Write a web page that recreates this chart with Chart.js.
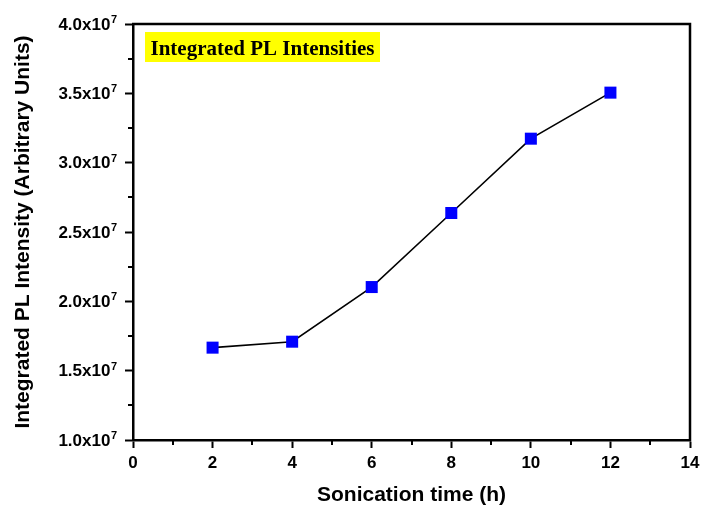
<!DOCTYPE html>
<html><head><meta charset="utf-8">
<script src="https://cdn.jsdelivr.net/npm/chart.js@4"></script>
<style>html,body{margin:0;padding:0;background:#fff}#wrap{width:708px;height:510px}</style>
</head><body><div id="wrap"><canvas id="c" width="708" height="510"></canvas></div>
<script>
const sonicationHours = [2, 4, 6, 8, 10, 12];
const plIntensity = [1.666e7, 1.709e7, 2.103e7, 2.637e7, 3.173e7, 3.505e7];
const yTickMantissa = ['1.0x10', '1.5x10', '2.0x10', '2.5x10', '3.0x10', '3.5x10', '4.0x10'];
const yTickExponent = '7';
const xMinorTicks = [1, 3, 5, 7, 9, 11, 13];
const yMinorTicks = [1.25e7, 1.75e7, 2.25e7, 2.75e7, 3.25e7, 3.75e7];
const annotationText = 'Integrated PL Intensities';
const xTitle = 'Sonication time (h)';
const yTitle = 'Integrated PL Intensity (Arbitrary Units)';

const SANS = '"Liberation Sans", Arial, sans-serif';
const SERIF = '"Liberation Serif", "Times New Roman", serif';

const extras = {
  id: 'extras',
  afterDraw(chart) {
    const ctx = chart.ctx;
    const a = chart.chartArea;
    const xs = chart.scales.x, ys = chart.scales.y;
    ctx.save();
    // frame top & right
    ctx.strokeStyle = '#000';
    ctx.lineWidth = 2.5;
    ctx.beginPath();
    ctx.moveTo(a.left - 1, a.top);
    ctx.lineTo(a.right, a.top);
    ctx.lineTo(a.right, a.bottom + 1);
    ctx.stroke();
    // minor ticks
    ctx.lineWidth = 2;
    ctx.beginPath();
    xMinorTicks.forEach(v => {
      const px = Math.round(xs.getPixelForValue(v));
      ctx.moveTo(px, a.bottom);
      ctx.lineTo(px, a.bottom + 5);
    });
    yMinorTicks.forEach(v => {
      const py = Math.round(ys.getPixelForValue(v));
      ctx.moveTo(a.left, py);
      ctx.lineTo(a.left - 5, py);
    });
    ctx.stroke();
    // y tick labels with superscript
    ctx.fillStyle = '#000';
    ys.ticks.forEach((t, i) => {
      const py = ys.getPixelForValue(t.value);
      const main = yTickMantissa[i];
      if (!main) return;
      ctx.font = 'bold 11px ' + SANS;
      const ew = ctx.measureText(yTickExponent).width;
      const rightEdge = a.left - 16;
      ctx.textAlign = 'right';
      ctx.textBaseline = 'alphabetic';
      ctx.fillText(yTickExponent, rightEdge, py - 1);
      ctx.font = 'bold 17px ' + SANS;
      ctx.fillText(main, rightEdge - ew - 0.5, py + 5.5);
    });
    // annotation box
    const bx = a.left + 12, by = a.top + 8, bw = 235, bh = 30;
    ctx.fillStyle = '#ffff00';
    ctx.fillRect(bx, by, bw, bh);
    ctx.fillStyle = '#000';
    ctx.font = 'bold 21px ' + SERIF;
    ctx.textAlign = 'center';
    ctx.textBaseline = 'alphabetic';
    ctx.fillText(annotationText, bx + bw / 2, by + 23);
    ctx.restore();
  }
};

new Chart(document.getElementById('c'), {
  type: 'line',
  data: {
    datasets: [{
      data: sonicationHours.map((h, i) => ({ x: h, y: plIntensity[i] })),
      borderColor: '#000',
      borderWidth: 1.6,
      pointStyle: 'rect',
      pointRadius: 8.5,
      pointHoverRadius: 8.5,
      pointBackgroundColor: '#0000ff',
      pointBorderColor: '#0000ff',
      pointBorderWidth: 0,
      fill: false,
      tension: 0
    }]
  },
  options: {
    responsive: false,
    animation: false,
    devicePixelRatio: 1,
    layout: { padding: { left: 0, right: 18, top: 24, bottom: 0 } },
    plugins: { legend: { display: false }, tooltip: { enabled: false } },
    scales: {
      x: {
        type: 'linear',
        min: 0, max: 14,
        ticks: { stepSize: 2, color: '#000', font: { family: SANS, size: 17, weight: 'bold' }, padding: 5 },
        grid: { drawOnChartArea: false, drawTicks: true, tickLength: 8, tickWidth: 2, tickColor: '#000' },
        border: { display: true, color: '#000', width: 2.5 },
        title: { display: true, text: xTitle, color: '#000', font: { family: SANS, size: 21, weight: 'bold' }, padding: { top: 0, bottom: 2 } },
        afterFit(s) { s.height = 70; }
      },
      y: {
        type: 'linear',
        min: 1e7, max: 4e7,
        ticks: { stepSize: 5e6, color: 'rgba(0,0,0,0)', font: { family: SANS, size: 17, weight: 'bold' } },
        grid: { drawOnChartArea: false, drawTicks: true, tickLength: 8, tickWidth: 2, tickColor: '#000' },
        border: { display: true, color: '#000', width: 2.5 },
        title: { display: true, text: yTitle, color: '#000', font: { family: SANS, size: 21, weight: 'bold' }, padding: { top: 11, bottom: 0 } },
        afterFit(s) { s.width = 133; }
      }
    }
  },
  plugins: [extras]
});
</script>
</body></html>
